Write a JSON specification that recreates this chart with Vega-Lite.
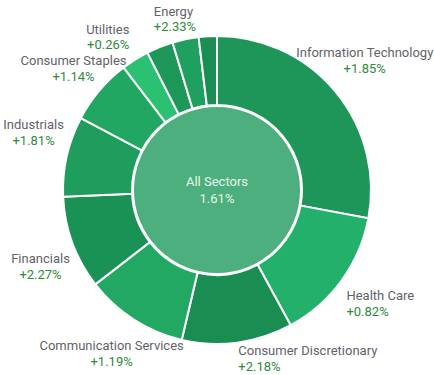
{
  "$schema": "https://vega.github.io/schema/vega-lite/v6.json",
  "width": 434,
  "height": 375,
  "autosize": {"type": "fit", "contains": "padding"},
  "padding": 0,
  "background": "white",
  "config": {"view": {"stroke": null}, "font": "Roboto"},
  "datasets": {
    "sectors": [
      {"idx": 1, "sector": "Information Technology", "weight": 27.9, "change": 0.0185},
      {"idx": 2, "sector": "Health Care", "weight": 14.1, "change": 0.0082},
      {"idx": 3, "sector": "Consumer Discretionary", "weight": 11.6, "change": 0.0218},
      {"idx": 4, "sector": "Communication Services", "weight": 10.8, "change": 0.0119},
      {"idx": 5, "sector": "Financials", "weight": 9.8, "change": 0.0227},
      {"idx": 6, "sector": "Industrials", "weight": 8.4, "change": 0.0181},
      {"idx": 7, "sector": "Consumer Staples", "weight": 6.9, "change": 0.0114},
      {"idx": 8, "sector": "Utilities", "weight": 2.9, "change": 0.0026},
      {"idx": 9, "sector": "Energy", "weight": 2.8, "change": 0.0233},
      {"idx": 10, "sector": "Real Estate", "weight": 2.75, "change": 0.015},
      {"idx": 11, "sector": "Materials", "weight": 1.9, "change": 0.022}
    ],
    "total": [{"label": "All Sectors", "w": 1, "change": 0.0161}]
  },
  "layer": [
    {
      "data": {"name": "sectors"},
      "mark": {"type": "arc", "outerRadius": 154, "innerRadius": 85, "stroke": "white", "strokeWidth": 2},
      "encoding": {
        "theta": {"field": "weight", "type": "quantitative", "stack": true},
        "order": {"field": "idx", "type": "quantitative"},
        "color": {
          "field": "sector", "type": "nominal", "legend": null,
          "scale": {
            "domain": ["Information Technology", "Health Care", "Consumer Discretionary", "Communication Services", "Financials", "Industrials", "Consumer Staples", "Utilities", "Energy", "Real Estate", "Materials"],
            "range": ["#1e965a", "#22b06a", "#1a8e52", "#23a864", "#1b9255", "#1f9d5c", "#22a762", "#2cc172", "#1d9858", "#20a05e", "#1a8d52"]
          }
        }
      }
    },
    {
      "data": {"name": "total"},
      "mark": {"type": "arc", "outerRadius": 84, "fill": "#4caf7d", "stroke": "white", "strokeWidth": 2},
      "encoding": {"theta": {"field": "w", "type": "quantitative"}}
    },
    {
      "data": {"name": "total"},
      "mark": {"type": "text", "fontSize": 13, "color": "#e8f5ee", "dy": -8},
      "encoding": {"text": {"field": "label", "type": "nominal"}}
    },
    {
      "data": {"name": "total"},
      "mark": {"type": "text", "fontSize": 13, "color": "#e8f5ee", "dy": 9},
      "encoding": {"text": {"field": "change", "type": "quantitative", "format": ".2%"}}
    },
    {
      "data": {"name": "sectors"},
      "mark": {"type": "text", "radius": 192, "align": "center", "dy": -14, "fontSize": 13, "color": "#5f6368"},
      "encoding": {
        "theta": {"field": "weight", "type": "quantitative", "stack": true},
        "order": {"field": "idx", "type": "quantitative"},
        "text": {"field": "sector", "type": "nominal", "condition": {"test": "datum.sector !== 'Information Technology'", "value": ""}}
      }
    },
    {
      "data": {"name": "sectors"},
      "mark": {"type": "text", "radius": 192, "align": "center", "dy": 2, "fontSize": 13, "color": "#2e8b3a"},
      "encoding": {
        "theta": {"field": "weight", "type": "quantitative", "stack": true},
        "order": {"field": "idx", "type": "quantitative"},
        "text": {"field": "change", "type": "quantitative", "format": "+.2%", "condition": {"test": "datum.sector !== 'Information Technology'", "value": ""}}
      }
    },
    {
      "data": {"name": "sectors"},
      "mark": {"type": "text", "radius": 160, "align": "left", "dy": 12, "fontSize": 13, "color": "#5f6368"},
      "encoding": {
        "theta": {"field": "weight", "type": "quantitative", "stack": true},
        "order": {"field": "idx", "type": "quantitative"},
        "text": {"field": "sector", "type": "nominal", "condition": {"test": "datum.sector !== 'Health Care'", "value": ""}}
      }
    },
    {
      "data": {"name": "sectors"},
      "mark": {"type": "text", "radius": 160, "align": "left", "dy": 28, "fontSize": 13, "color": "#2e8b3a"},
      "encoding": {
        "theta": {"field": "weight", "type": "quantitative", "stack": true},
        "order": {"field": "idx", "type": "quantitative"},
        "text": {"field": "change", "type": "quantitative", "format": "+.2%", "condition": {"test": "datum.sector !== 'Health Care'", "value": ""}}
      }
    },
    {
      "data": {"name": "sectors"},
      "mark": {"type": "text", "radius": 160, "align": "left", "dy": 2, "fontSize": 13, "color": "#5f6368"},
      "encoding": {
        "theta": {"field": "weight", "type": "quantitative", "stack": true},
        "order": {"field": "idx", "type": "quantitative"},
        "text": {"field": "sector", "type": "nominal", "condition": {"test": "datum.sector !== 'Consumer Discretionary'", "value": ""}}
      }
    },
    {
      "data": {"name": "sectors"},
      "mark": {"type": "text", "radius": 160, "align": "left", "dy": 18, "fontSize": 13, "color": "#2e8b3a"},
      "encoding": {
        "theta": {"field": "weight", "type": "quantitative", "stack": true},
        "order": {"field": "idx", "type": "quantitative"},
        "text": {"field": "change", "type": "quantitative", "format": "+.2%", "condition": {"test": "datum.sector !== 'Consumer Discretionary'", "value": ""}}
      }
    },
    {
      "data": {"name": "sectors"},
      "mark": {"type": "text", "radius": 195, "align": "center", "dy": -8, "fontSize": 13, "color": "#5f6368"},
      "encoding": {
        "theta": {"field": "weight", "type": "quantitative", "stack": true},
        "order": {"field": "idx", "type": "quantitative"},
        "text": {"field": "sector", "type": "nominal", "condition": {"test": "datum.sector !== 'Communication Services'", "value": ""}}
      }
    },
    {
      "data": {"name": "sectors"},
      "mark": {"type": "text", "radius": 195, "align": "center", "dy": 8, "fontSize": 13, "color": "#2e8b3a"},
      "encoding": {
        "theta": {"field": "weight", "type": "quantitative", "stack": true},
        "order": {"field": "idx", "type": "quantitative"},
        "text": {"field": "change", "type": "quantitative", "format": "+.2%", "condition": {"test": "datum.sector !== 'Communication Services'", "value": ""}}
      }
    },
    {
      "data": {"name": "sectors"},
      "mark": {"type": "text", "radius": 188, "align": "center", "dy": 4, "fontSize": 13, "color": "#5f6368"},
      "encoding": {
        "theta": {"field": "weight", "type": "quantitative", "stack": true},
        "order": {"field": "idx", "type": "quantitative"},
        "text": {"field": "sector", "type": "nominal", "condition": {"test": "datum.sector !== 'Financials'", "value": ""}}
      }
    },
    {
      "data": {"name": "sectors"},
      "mark": {"type": "text", "radius": 188, "align": "center", "dy": 20, "fontSize": 13, "color": "#2e8b3a"},
      "encoding": {
        "theta": {"field": "weight", "type": "quantitative", "stack": true},
        "order": {"field": "idx", "type": "quantitative"},
        "text": {"field": "change", "type": "quantitative", "format": "+.2%", "condition": {"test": "datum.sector !== 'Financials'", "value": ""}}
      }
    },
    {
      "data": {"name": "sectors"},
      "mark": {"type": "text", "radius": 188, "align": "center", "dy": -24, "fontSize": 13, "color": "#5f6368"},
      "encoding": {
        "theta": {"field": "weight", "type": "quantitative", "stack": true},
        "order": {"field": "idx", "type": "quantitative"},
        "text": {"field": "sector", "type": "nominal", "condition": {"test": "datum.sector !== 'Industrials'", "value": ""}}
      }
    },
    {
      "data": {"name": "sectors"},
      "mark": {"type": "text", "radius": 188, "align": "center", "dy": -8, "fontSize": 13, "color": "#2e8b3a"},
      "encoding": {
        "theta": {"field": "weight", "type": "quantitative", "stack": true},
        "order": {"field": "idx", "type": "quantitative"},
        "text": {"field": "change", "type": "quantitative", "format": "+.2%", "condition": {"test": "datum.sector !== 'Industrials'", "value": ""}}
      }
    },
    {
      "data": {"name": "sectors"},
      "mark": {"type": "text", "radius": 188, "align": "center", "dy": -8, "fontSize": 13, "color": "#5f6368"},
      "encoding": {
        "theta": {"field": "weight", "type": "quantitative", "stack": true},
        "order": {"field": "idx", "type": "quantitative"},
        "text": {"field": "sector", "type": "nominal", "condition": {"test": "datum.sector !== 'Consumer Staples'", "value": ""}}
      }
    },
    {
      "data": {"name": "sectors"},
      "mark": {"type": "text", "radius": 188, "align": "center", "dy": 8, "fontSize": 13, "color": "#2e8b3a"},
      "encoding": {
        "theta": {"field": "weight", "type": "quantitative", "stack": true},
        "order": {"field": "idx", "type": "quantitative"},
        "text": {"field": "change", "type": "quantitative", "format": "+.2%", "condition": {"test": "datum.sector !== 'Consumer Staples'", "value": ""}}
      }
    },
    {
      "data": {"name": "sectors"},
      "mark": {"type": "text", "radius": 165, "align": "right", "dy": -20, "fontSize": 13, "color": "#5f6368"},
      "encoding": {
        "theta": {"field": "weight", "type": "quantitative", "stack": true},
        "order": {"field": "idx", "type": "quantitative"},
        "text": {"field": "sector", "type": "nominal", "condition": {"test": "datum.sector !== 'Utilities'", "value": ""}}
      }
    },
    {
      "data": {"name": "sectors"},
      "mark": {"type": "text", "radius": 165, "align": "right", "dy": -5, "fontSize": 13, "color": "#2e8b3a"},
      "encoding": {
        "theta": {"field": "weight", "type": "quantitative", "stack": true},
        "order": {"field": "idx", "type": "quantitative"},
        "text": {"field": "change", "type": "quantitative", "format": "+.2%", "condition": {"test": "datum.sector !== 'Utilities'", "value": ""}}
      }
    },
    {
      "data": {"name": "sectors"},
      "mark": {"type": "text", "radius": 170, "align": "left", "dy": -20, "fontSize": 13, "color": "#5f6368"},
      "encoding": {
        "theta": {"field": "weight", "type": "quantitative", "stack": true},
        "order": {"field": "idx", "type": "quantitative"},
        "text": {"field": "sector", "type": "nominal", "condition": {"test": "datum.sector !== 'Energy'", "value": ""}}
      }
    },
    {
      "data": {"name": "sectors"},
      "mark": {"type": "text", "radius": 170, "align": "left", "dy": -5, "fontSize": 13, "color": "#2e8b3a"},
      "encoding": {
        "theta": {"field": "weight", "type": "quantitative", "stack": true},
        "order": {"field": "idx", "type": "quantitative"},
        "text": {"field": "change", "type": "quantitative", "format": "+.2%", "condition": {"test": "datum.sector !== 'Energy'", "value": ""}}
      }
    }
  ],
  "resolve": {"scale": {"theta": "independent"}}
}
